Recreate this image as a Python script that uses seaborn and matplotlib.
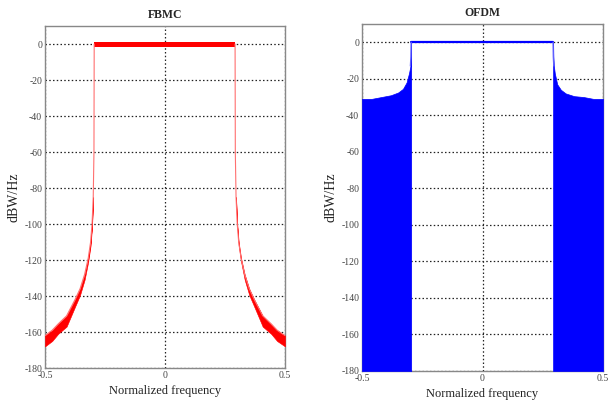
import matplotlib
matplotlib.use("Agg")
import matplotlib.pyplot as plt
import seaborn as sns
import numpy as np
import pandas as pd

# ---- data ----
titles = ["FBMC", "OFDM"]
xticks = [-0.5, 0, 0.5]
xtick_labels = ["-0.5", "0", "0.5"]
yticks = [0, -20, -40, -60, -80, -100, -120, -140, -160, -180]

# FBMC pass band (noisy band around 0 dB)
fbmc_pass_f = [-0.295, 0.292]
fbmc_pass_hi = [1.2, 1.2]
fbmc_pass_lo = [-1.4, -1.4]

# FBMC left skirt envelope
fbmc_left_f = [-0.5, -0.47, -0.445, -0.41, -0.375, -0.354, -0.335, -0.32, -0.31, -0.304, -0.299, -0.296, -0.295]
fbmc_left_hi = [-162, -159, -155.5, -151, -142, -136, -128, -119, -110, -100, -85, -60, 0]
fbmc_left_lo = [-168, -165, -161, -157, -146, -139.5, -131, -121, -112, -101.5, -86, -61, 0]

# FBMC right skirt envelope
fbmc_right_f = [0.292, 0.293, 0.296, 0.301, 0.307, 0.317, 0.332, 0.351, 0.372, 0.407, 0.442, 0.467, 0.5]
fbmc_right_hi = [0, -60, -85, -100, -110, -119, -128, -136, -142, -151, -155.5, -159, -162]
fbmc_right_lo = [0, -61, -86, -101.5, -112, -121, -131, -139.5, -146, -157, -161, -165, -168]

# OFDM pass band
ofdm_pass_f = [-0.296, 0.293]
ofdm_pass_db = [0, 0]

# OFDM out-of-band upper envelope (filled down to the floor)
ofdm_left_f = [-0.5, -0.46, -0.42, -0.38, -0.35, -0.33, -0.315, -0.305, -0.299, -0.297, -0.296]
ofdm_left_top = [-31, -31, -30, -29, -27.5, -25.5, -22, -17, -13, -8, 0]
ofdm_right_f = [0.293, 0.294, 0.296, 0.30, 0.31, 0.325, 0.345, 0.38, 0.42, 0.46, 0.5]
ofdm_right_top = [0, -8, -13, -17, -23, -26, -28, -29.5, -30, -31, -31]
floor_db = -180

RED = "#ff0000"
BLUE = "#0000ff"

sns.set_style("white")
plt.rcParams['font.family'] = ['Liberation Serif', 'DejaVu Serif']

fig = plt.figure(figsize=(6.08, 4.13), dpi=100)
W, H = 608, 413
ax1 = fig.add_axes([45 / W, (H - 368) / H, 240 / W, (368 - 26) / H])
ax2 = fig.add_axes([362 / W, (H - 371) / H, 241 / W, (371 - 24) / H])

# ---- FBMC ----
ax1.fill_between(fbmc_pass_f, fbmc_pass_lo, fbmc_pass_hi, color=RED, lw=0, zorder=3)
ax1.fill_between(fbmc_left_f[:-2], fbmc_left_lo[:-2], fbmc_left_hi[:-2], color=RED, lw=0.4, zorder=3)
ax1.fill_between(fbmc_right_f[2:], fbmc_right_lo[2:], fbmc_right_hi[2:], color=RED, lw=0.4, zorder=3)
sns.lineplot(x=fbmc_left_f, y=fbmc_left_hi, ax=ax1, color="#ff7070", lw=0.8, zorder=3, sort=False)
sns.lineplot(x=fbmc_right_f, y=fbmc_right_hi, ax=ax1, color="#ff7070", lw=0.8, zorder=3, sort=False)

# ---- OFDM ----
ax2.fill_between(ofdm_left_f, floor_db, ofdm_left_top, color=BLUE, lw=0.5, zorder=3)
ax2.fill_between(ofdm_right_f, floor_db, ofdm_right_top, color=BLUE, lw=0.5, zorder=3)
sns.lineplot(x=ofdm_pass_f, y=ofdm_pass_db, ax=ax2, color=BLUE, lw=1.6, zorder=3)
sns.lineplot(x=ofdm_left_f[-3:], y=ofdm_left_top[-3:], ax=ax2, color="#6060ff", lw=1.0, zorder=3)
sns.lineplot(x=ofdm_right_f[:3], y=ofdm_right_top[:3], ax=ax2, color="#6060ff", lw=1.0, zorder=3)

for ax, title in zip([ax1, ax2], titles):
    ax.set_xlim(-0.5, 0.5)
    ax.set_ylim(-180, 10)
    ax.set_xticks(xticks)
    ax.set_xticklabels(xtick_labels)
    ax.set_yticks(yticks)
    ax.set_yticklabels([str(v) for v in yticks])
    ax.grid(True, color="#222222", linestyle=(0, (1.2, 1.8)), linewidth=0.9, zorder=1)
    ax.set_axisbelow(True)
    ax.tick_params(axis="both", labelsize=7, colors="#444444", direction="in", length=3, pad=2)
    ax.set_title(title, fontsize=8.5, fontweight="bold", pad=6)
    ax.set_xlabel("Normalized frequency", fontsize=9, labelpad=4, color="#222222")
    ax.set_ylabel("dBW/Hz", fontsize=10, labelpad=3, color="#222222")
    for sp in ax.spines.values():
        sp.set_color("#888888")
        sp.set_linewidth(1.0)
        sp.set_visible(True)

fig.savefig("out.png", dpi=100, facecolor="white")
